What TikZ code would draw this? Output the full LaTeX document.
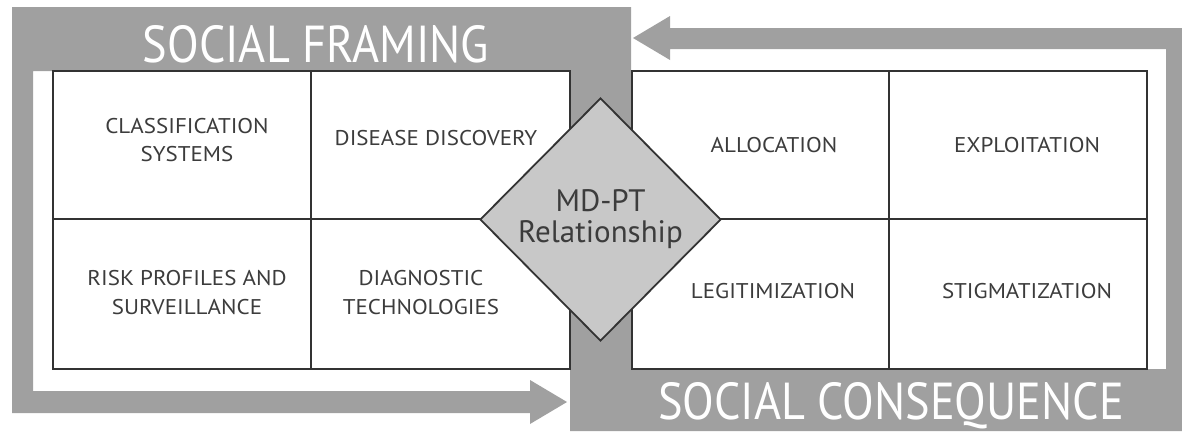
\documentclass[tikz,border=0pt]{standalone}
\usepackage{fontspec}
\setmainfont{PT Sans}
\newfontfamily\titlefont[FakeStretch=0.89]{PT Sans}
\newfontfamily\cellfont[FakeStretch=1.08]{PT Sans}
\usetikzlibrary{shapes.geometric}
\definecolor{framegray}{HTML}{A0A0A0}
\definecolor{diamondgray}{HTML}{C8C8C8}
\definecolor{rulegray}{HTML}{333333}
\definecolor{inkgray}{HTML}{3C3C3C}

\begin{document}
\begin{tikzpicture}[x=1pt,y=-1pt,
  band/.style={fill=framegray},
  gridline/.style={draw=rulegray, line width=1.8pt},
  celltext/.style={text=inkgray, font=\cellfont\fontsize{21.3}{28.5}\selectfont, inner sep=0pt, align=center},
  titletext/.style={text=white, font=\titlefont\fontsize{52}{60}\selectfont, inner sep=0pt, anchor=base},
  hub/.style={diamond, draw=rulegray, line width=1.8pt, fill=diamondgray,
    minimum width=241pt, minimum height=243pt, inner sep=0pt, text=inkgray,
    font=\fontsize{31}{31}\selectfont, align=center}
]
\useasboundingbox (0,0) rectangle (1182,431);
\fill[white] (0,0) rectangle (1182,431);

% grey frames with their arrows
\fill[band] (12,7) rectangle (631,71)
  (12,7) rectangle (33,413)
  (12,391) rectangle (530,413)
  (530,380) -- (567,402) -- (530,424) -- cycle
  (570,7) rectangle (631,431)
  (570,369) rectangle (1182,431)
  (1166,28) rectangle (1182,431)
  (670,28) rectangle (1182,49)
  (670,16) -- (633,38) -- (670,60) -- cycle;

% left table
\fill[white] (53,71) rectangle (570,369);
\draw[gridline] (53,71) rectangle (570,369)
  (311,71) -- (311,369) (53,219) -- (570,219);
% right table
\fill[white] (632,71) rectangle (1147,369);
\draw[gridline] (632,71) rectangle (1147,369)
  (889,71) -- (889,369) (632,219) -- (1147,219);

% cell labels
\node[celltext] (classif) at (187,140) {CLASSIFICATION\\SYSTEMS};
\node[celltext, anchor=base] (discovery) at (436,145) {DISEASE DISCOVERY};
\node[celltext] (risk) at (187,292.5) {RISK PROFILES AND\\SURVEILLANCE};
\node[celltext] (diagtech) at (421,292.5) {DIAGNOSTIC\\TECHNOLOGIES};
\node[celltext, anchor=base] (alloc) at (774,152) {ALLOCATION};
\node[celltext, anchor=base] (exploit) at (1027,152) {EXPLOITATION};
\node[celltext, anchor=base] (legit) at (773,298) {LEGITIMIZATION};
\node[celltext, anchor=base] (stigma) at (1027,298) {STIGMATIZATION};

% central relationship
\node[hub] (mdpt) at (600.5,219.5) {MD-PT\\Relationship};

% titles
\node[titletext] (framing) at (316,62) {SOCIAL FRAMING};
\node[titletext] (consequence) at (891,419) {SOCIAL CONSEQUENCE};
\end{tikzpicture}
\end{document}
